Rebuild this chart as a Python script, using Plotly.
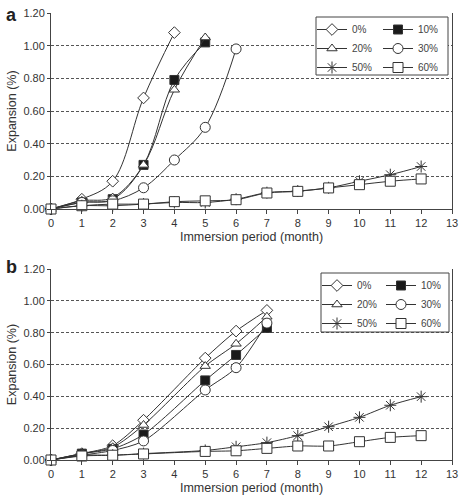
import plotly.graph_objects as go

# ---------------- data ----------------
series = ["0%", "10%", "20%", "30%", "50%", "60%"]

a_0 = [0, 0.06, 0.17, 0.68, 1.08]
a_10 = [0, 0.04, 0.06, 0.27, 0.79, 1.02]
a_20 = [0, 0.05, 0.07, 0.27, 0.73, 1.05]
a_30 = [0, 0.04, 0.05, 0.13, 0.30, 0.50, 0.98]
a_50 = [0, 0.02, 0.02, 0.03, 0.04, 0.04, 0.06, 0.10, 0.11, 0.13, 0.17, 0.21, 0.26]
a_60 = [0, 0.02, 0.03, 0.03, 0.045, 0.05, 0.057, 0.098, 0.108, 0.129, 0.149, 0.17, 0.184]

b_0 = [0, 0.04, 0.09, 0.25, None, 0.64, 0.81, 0.94]
b_10 = [0, 0.04, 0.07, 0.16, None, 0.50, 0.66, 0.83]
b_20 = [0, 0.04, 0.08, 0.22, None, 0.59, 0.73, 0.90]
b_30 = [0, 0.03, 0.06, 0.12, None, 0.44, 0.58, 0.86]
b_50 = [0, 0.03, 0.03, 0.04, None, 0.06, 0.083, 0.109, 0.153, 0.209, 0.268, 0.344, 0.398]
b_60 = [0, 0.025, 0.03, 0.038, None, 0.054, 0.058, 0.073, 0.088, 0.088, 0.115, 0.142, 0.153]

x_ticks = list(range(14))
y_ticks = [0, 0.2, 0.4, 0.6, 0.8, 1.0, 1.2]

x_title = "Immersion period (month)"
y_title = "Expansion (%)"

# ---------------- style ----------------
FONT = "Liberation Sans, Arial, sans-serif"
LINE = "#333333"
styles = {
    "0%": dict(symbol="diamond", color="white", size=9),
    "10%": dict(symbol="square", color="#1a1a1a", size=9),
    "20%": dict(symbol="triangle-up", color="white", size=9),
    "30%": dict(symbol="circle", color="white", size=10),
    "50%": dict(symbol="asterisk-open", color=LINE, size=10),
    "60%": dict(symbol="square", color="white", size=10),
}


def xy(vals):
    xs, ys = [], []
    for i, v in enumerate(vals):
        if v is not None:
            xs.append(i)
            ys.append(v)
    return xs, ys


panel_a = [a_0, a_10, a_20, a_30, a_50, a_60]
panel_b = [b_0, b_10, b_20, b_30, b_50, b_60]

fig = go.Figure()

legend_map_a = {"0%": "legend", "20%": "legend", "50%": "legend",
                "10%": "legend2", "30%": "legend2", "60%": "legend2"}
legend_map_b = {"0%": "legend3", "20%": "legend3", "50%": "legend3",
                "10%": "legend4", "30%": "legend4", "60%": "legend4"}

for name, vals in zip(series, panel_a):
    xs, ys = xy(vals)
    st = styles[name]
    fig.add_trace(go.Scatter(
        x=xs, y=ys, name=name, mode="lines+markers",
        line=dict(color=LINE, width=1, shape="spline", smoothing=1),
        marker=dict(symbol=st["symbol"], size=st["size"], color=st["color"],
                    line=dict(color=LINE, width=1)),
        cliponaxis=False, xaxis="x", yaxis="y",
        legend=legend_map_a[name],
    ))

for name, vals in zip(series, panel_b):
    xs, ys = xy(vals)
    st = styles[name]
    fig.add_trace(go.Scatter(
        x=xs, y=ys, name=name, mode="lines+markers",
        line=dict(color=LINE, width=1, shape="spline", smoothing=0.8),
        marker=dict(symbol=st["symbol"], size=st["size"], color=st["color"],
                    line=dict(color=LINE, width=1)),
        cliponaxis=False, xaxis="x2", yaxis="y2",
        legend=legend_map_b[name],
    ))

tickfont = dict(family=FONT, size=11, color="#333333")
titlefont = dict(family=FONT, size=12.5, color="#333333")

xaxis_common = dict(
    range=[0, 13], tickvals=x_ticks, ticktext=[str(t) for t in x_ticks],
    showline=True, linecolor="#444444", linewidth=1, mirror=False,
    ticks="outside", ticklen=4, tickcolor="#444444", automargin=False,
    showgrid=False, zeroline=False, tickfont=tickfont,
    title=dict(text=x_title, font=titlefont, standoff=4),
)
yaxis_common = dict(
    range=[0, 1.2], tickvals=y_ticks, ticktext=[f"{t:.2f}" for t in y_ticks],
    showline=True, linecolor="#444444", linewidth=1, mirror=True,
    ticks="outside", ticklen=3, tickcolor="#444444", automargin=False,
    showgrid=True, gridcolor="#555555", griddash="3px,2px", gridwidth=1,
    zeroline=False, tickfont=tickfont,
    title=dict(text=y_title, font=titlefont, standoff=4),
)

W, H = 462, 498
ml, mr, mt, mb = 51, 10, 13, 38
pw = W - ml - mr
ph = H - mt - mb


def px_x(p):
    return (p - ml) / pw


def px_y(p):
    return (H - mb - p) / ph


legfont = dict(family=FONT, size=10, color="#444444")
leg_common = dict(bgcolor="rgba(0,0,0,0)", borderwidth=0, font=legfont,
                  itemwidth=30, xanchor="left", yanchor="top", tracegroupgap=0)

fig.update_layout(
    width=W, height=H,
    margin=dict(l=ml, r=mr, t=mt, b=mb, autoexpand=False),
    paper_bgcolor="white", plot_bgcolor="white",
    xaxis=dict(domain=[0, 1], anchor="y", **xaxis_common),
    yaxis=dict(domain=[px_y(209), 1], anchor="x", **yaxis_common),
    xaxis2=dict(domain=[0, 1], anchor="y2", **xaxis_common),
    yaxis2=dict(domain=[0, px_y(269)], anchor="x2", **yaxis_common),
    legend=dict(x=px_x(312), y=px_y(15), **leg_common),
    legend2=dict(x=px_x(378), y=px_y(15), **leg_common),
    legend3=dict(x=px_x(317), y=px_y(271), **leg_common),
    legend4=dict(x=px_x(381), y=px_y(271), **leg_common),
    shapes=[
        dict(type="rect", xref="paper", yref="paper",
             x0=px_x(316), x1=px_x(448), y0=px_y(75), y1=px_y(17),
             line=dict(color="#444444", width=1), fillcolor="white", layer="above"),
        dict(type="rect", xref="paper", yref="paper",
             x0=px_x(321), x1=px_x(449), y0=px_y(332), y1=px_y(273),
             line=dict(color="#444444", width=1), fillcolor="white", layer="above"),
    ],
    annotations=[
        dict(text="<b>a</b>", xref="paper", yref="paper", x=px_x(4), y=px_y(3),
             xanchor="left", yanchor="top", showarrow=False,
             font=dict(family=FONT, size=18, color="#222222")),
        dict(text="<b>b</b>", xref="paper", yref="paper", x=px_x(4), y=px_y(255),
             xanchor="left", yanchor="top", showarrow=False,
             font=dict(family=FONT, size=18, color="#222222")),
    ],
)

fig.write_html("out.html")
